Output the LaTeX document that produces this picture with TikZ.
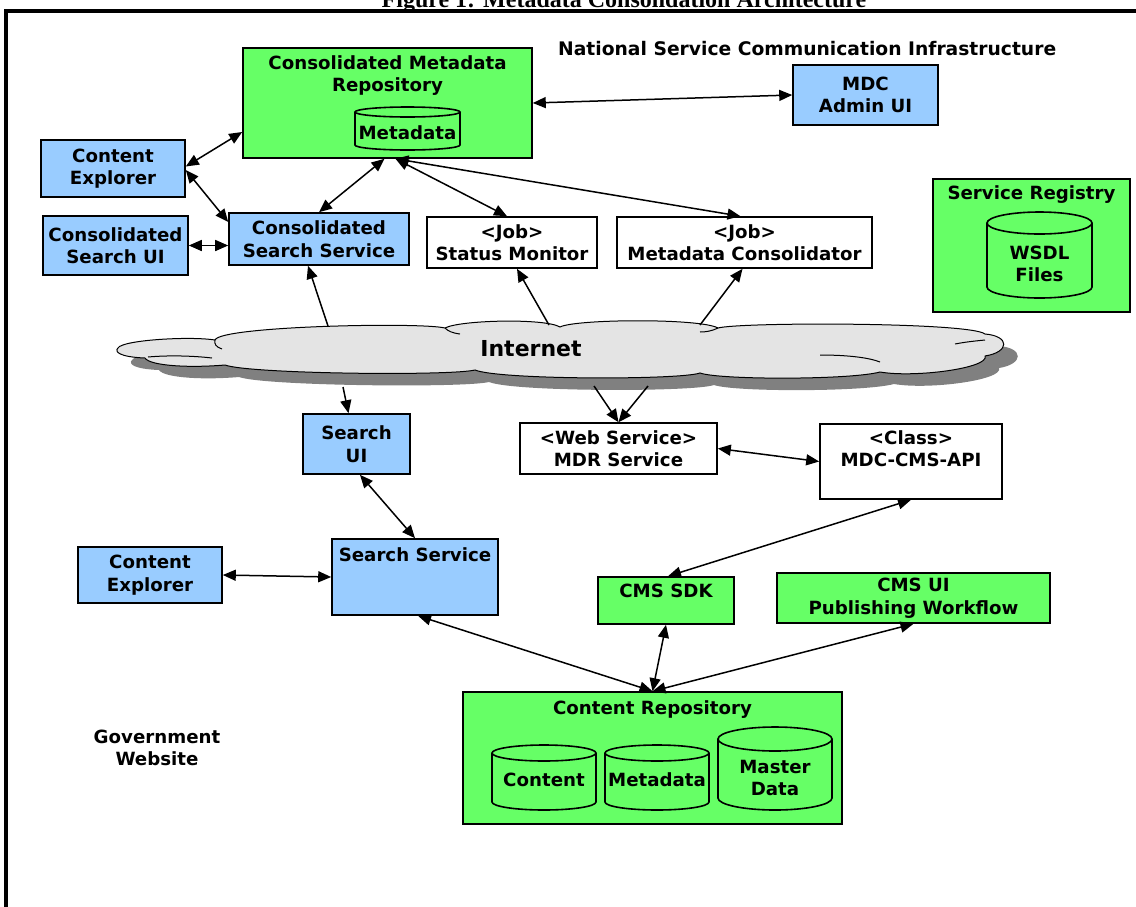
\documentclass[tikz,border=0pt]{standalone}
\usepackage{fontspec}
\setmainfont{DejaVu Sans}
\newfontfamily\titlefont{Liberation Serif}
\usetikzlibrary{arrows.meta}
\definecolor{gfill}{HTML}{66FF66}
\definecolor{bfill}{HTML}{99CCFF}
\definecolor{cloudfill}{HTML}{E4E4E4}
\definecolor{shadowgray}{HTML}{808080}
\newcommand\lblfont{\fontsize{18.2}{22.5}\selectfont\bfseries}
\newcommand\drum[6]{%
  \pgfmathsetmacro\drumrx{(#2-#1)/2}%
  \pgfmathsetmacro\drumxc{(#1+#2)/2}%
  \fill[#6] (#1,#3) -- (#1,#4) arc[start angle=180,end angle=360,x radius={\drumrx pt},y radius={#5pt}] -- (#2,#3) -- cycle;
  \draw[line width=1.6pt] (#1,#3) -- (#1,#4) arc[start angle=180,end angle=360,x radius={\drumrx pt},y radius={#5pt}] -- (#2,#3);
  \draw[line width=1.6pt,fill=#6] (\drumxc,#3) ellipse[x radius={\drumrx pt},y radius={#5pt}];
}
\begin{document}
\begin{tikzpicture}[x=1pt,y=-1pt,
  box/.style={draw=black, line width=1.6pt, inner sep=0pt, align=center, font=\lblfont},
  gbox/.style={box, fill=gfill},
  bbox/.style={box, fill=bfill},
  wbox/.style={box, fill=white},
  txt/.style={inner sep=0pt, align=center, font=\lblfont},
  arr/.style={line width=1.5pt, {Triangle[length=13pt,width=11pt]}-{Triangle[length=13pt,width=11pt]}},
  sarr/.style={line width=1.5pt, -{Triangle[length=13pt,width=11pt]}},
  cloudline/.style={line width=1pt}]
\useasboundingbox (0,0) rectangle (1136,906);
\clip (0,0) rectangle (1136,906);

% title (clipped at top) and frame
\node[anchor=base, inner sep=0pt, font=\titlefont\fontsize{24}{28}\selectfont\bfseries] (title) at (624,7) {Figure 1: Metadata Consolidation Architecture};
\draw[line width=4pt] (6,960) -- (6,11) -- (1190,11);

\node[anchor=base west, inner sep=0pt, font=\fontsize{18.7}{22}\selectfont\bfseries] (nsci) at (558,55) {National Service Communication Infrastructure};
\node[txt] (gov) at (157,748) {Government\\Website};

% cloud shadow
\begin{scope}[shift={(14,12)}]
\fill[shadowgray] (118,348)
 .. controls (122,340) and (190,336) .. (215,340)
 .. controls (220,326) and (420,322) .. (445,328)
 .. controls (460,320) and (545,318) .. (560,327)
 .. controls (575,319) and (700,318) .. (718,328)
 .. controls (740,322) and (970,322) .. (985,334)
 .. controls (1010,336) and (1010,352) .. (985,356)
 .. controls (990,368) and (915,378) .. (880,372)
 .. controls (850,380) and (720,380) .. (700,373)
 .. controls (680,380) and (500,380) .. (475,370)
 .. controls (450,376) and (250,374) .. (225,365)
 .. controls (190,368) and (150,366) .. (145,358)
 .. controls (120,357) and (114,352) .. (118,348) -- cycle;
\end{scope}
% cloud
\filldraw[fill=cloudfill, draw=black, cloudline] (118,348)
 .. controls (122,340) and (190,336) .. (215,340)
 .. controls (220,326) and (420,322) .. (445,328)
 .. controls (460,320) and (545,318) .. (560,327)
 .. controls (575,319) and (700,318) .. (718,328)
 .. controls (740,322) and (970,322) .. (985,334)
 .. controls (1010,336) and (1010,352) .. (985,356)
 .. controls (990,368) and (915,378) .. (880,372)
 .. controls (850,380) and (720,380) .. (700,373)
 .. controls (680,380) and (500,380) .. (475,370)
 .. controls (450,376) and (250,374) .. (225,365)
 .. controls (190,368) and (150,366) .. (145,358)
 .. controls (120,357) and (114,352) .. (118,348) -- cycle;
\draw[cloudline] (148,357) .. controls (170,355) and (195,356) .. (212,358);
\draw[cloudline] (215,340) .. controls (214,344) and (216,347) .. (222,349);
\draw[cloudline] (445,328) .. controls (448,331) and (452,333) .. (460,334);
\draw[cloudline] (718,328) .. controls (712,331) and (706,332) .. (700,332);
\draw[cloudline] (820,355) .. controls (850,355) and (870,358) .. (880,362);
\draw[cloudline] (985,340) .. controls (975,341) and (965,342) .. (955,344);
\node[inner sep=0pt, font=\fontsize{22}{26}\selectfont\bfseries] (inet) at (531,349) {Internet};
\coordinate (inA) at (328,326);
\coordinate (inB) at (549,325);
\coordinate (inC) at (700,325);
\coordinate (inD) at (343,387);
\coordinate (inE) at (594,386);
\coordinate (inF) at (648,386);

% boxes
\node[gbox, minimum width=289pt, minimum height=110pt] (cmr) at (387.5,103) {};
\node[txt, anchor=north] (cmrt) at (387.5,55) {Consolidated Metadata\\Repository};
\drum{355}{460}{112}{145}{5}{gfill}
\node[txt] (cmrmeta) at (407.5,133) {Metadata};

\node[bbox, minimum width=145pt, minimum height=60pt] (admin) at (865.5,95) {MDC\\Admin UI};
\node[bbox, minimum width=144pt, minimum height=57pt] (ce1) at (113,168.5) {Content\\Explorer};
\node[bbox, minimum width=145pt, minimum height=59pt] (csui) at (115.5,245.5) {Consolidated\\Search UI};
\node[bbox, minimum width=180pt, minimum height=52pt] (css) at (319,239) {Consolidated\\Search Service};
\node[wbox, minimum width=170pt, minimum height=51pt] (sm) at (512,242.5) {<Job>\\Status Monitor};
\node[wbox, minimum width=255pt, minimum height=51pt] (mc) at (744.5,242.5) {<Job>\\Metadata Consolidator};

\node[gbox, minimum width=197pt, minimum height=133pt] (sr) at (1031.5,245.5) {};
\node[txt, anchor=north] (srt) at (1031.5,185) {Service Registry};
\drum{987}{1092}{223}{287}{11}{gfill}
\node[txt] (wsdl) at (1039.5,264) {WSDL\\Files};

\node[bbox, minimum width=107pt, minimum height=60pt] (sui) at (356.5,444) {Search\\UI};
\node[wbox, minimum width=197pt, minimum height=51pt] (mdr) at (618.5,448.5) {<Web Service>\\MDR Service};
\node[wbox, minimum width=182pt, minimum height=75pt] (api) at (911,461.5) {};
\node[txt, anchor=north] (apit) at (911,430) {<Class>\\MDC-CMS-API};

\node[bbox, minimum width=166pt, minimum height=76pt] (ss) at (415,577) {};
\node[txt, anchor=north] (sst) at (415,547) {Search Service};
\node[bbox, minimum width=144pt, minimum height=56pt] (ce2) at (150,575) {Content\\Explorer};
\node[gbox, minimum width=136pt, minimum height=47pt] (sdk) at (666,600.5) {};
\node[txt, anchor=north] (sdkt) at (666,584) {CMS SDK};
\node[gbox, minimum width=273pt, minimum height=50pt] (cmsui) at (913.5,598) {CMS UI\\Publishing Workflow};

\node[gbox, minimum width=379pt, minimum height=132pt] (cr) at (652.5,758) {};
\node[txt, anchor=north] (crt) at (652.5,700) {Content Repository};
\drum{492}{596}{753}{802}{8}{gfill}
\node[txt] (cont) at (544,780) {Content};
\drum{605}{709}{753}{802}{8}{gfill}
\node[txt] (meta) at (657,780) {Metadata};
\drum{718}{832}{739}{798}{12}{gfill}
\node[txt] (master) at (775,778) {Master\\Data};

% connectors
\draw[arr] (cmr.east) -- (admin.west);
\draw[arr] ([yshift=2pt]ce1.east) -- ([yshift=-29pt]cmr.west);
\draw[arr] ([yshift=-1.5pt]ce1.east) -- ([yshift=17pt]css.west);
\draw[arr] (csui.east) -- (csui.east -| css.west);
\draw[arr] (css.north) -- ([xshift=-3pt]cmr.south);
\draw[arr] ([xshift=8pt]cmr.south) -- ([xshift=-5pt]sm.north);
\draw[arr] ([xshift=8pt]cmr.south) -- ([xshift=-4pt]mc.north);
\draw[sarr] (inA) -- ([xshift=-11pt]css.south);
\draw[sarr] (inB) -- ([xshift=5pt]sm.south);
\draw[sarr] (inC) -- ([xshift=-2pt]mc.south);
\draw[sarr] (inD) -- ([xshift=-8pt]sui.north);
\draw[sarr] (inE) -- (mdr.north);
\draw[sarr] (inF) -- (mdr.north);
\draw[arr] (mdr.east) -- (api.west);
\draw[arr] ([xshift=3.5pt]sui.south) -- (ss.north);
\draw[arr] (ce2.east) -- (ss.west);
\draw[arr] ([xshift=3pt]ss.south) -- (cr.north);
\draw[arr] ([xshift=2pt]sdk.north) -- (api.south);
\draw[arr] (sdk.south) -- (cr.north);
\draw[arr] (cr.north) -- (cmsui.south);
\end{tikzpicture}
\end{document}
